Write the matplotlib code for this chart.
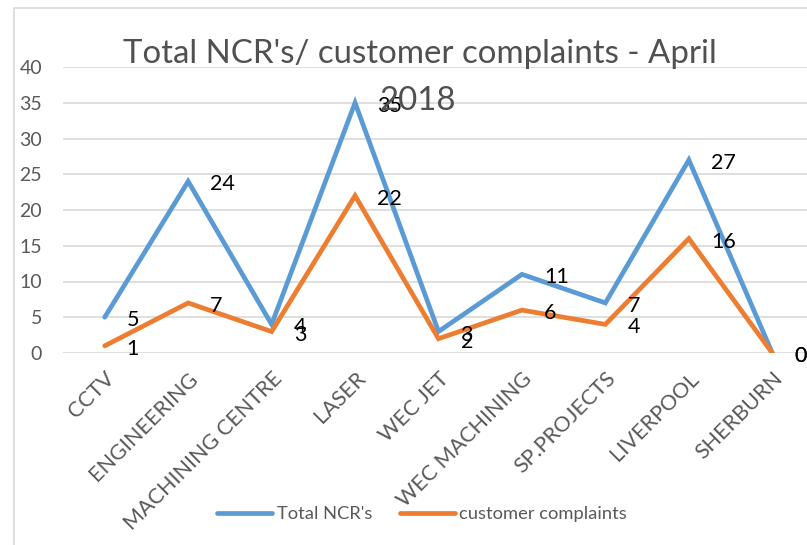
import matplotlib
matplotlib.use("Agg")
import matplotlib.pyplot as plt
from matplotlib.patches import Rectangle

plt.rcParams["font.family"] = ["Lato", "DejaVu Sans"]

# ── data ────────────────────────────────────────────────────────────────────
categories = ["CCTV", "ENGINEERING", "MACHINING CENTRE", "LASER", "WEC JET",
              "WEC MACHINING", "SP.PROJECTS", "LIVERPOOL", "SHERBURN"]
total_ncrs = [5, 24, 4, 35, 3, 11, 7, 27, 0]
complaints = [1, 7, 3, 22, 2, 6, 4, 16, 0]
y_ticks = [0, 5, 10, 15, 20, 25, 30, 35, 40]

BLUE = "#5B9BD5"
ORANGE = "#ED7D31"
GREY_TXT = "#595959"
GRID = "#D9D9D9"

W, H = 807, 545
fig = plt.figure(figsize=(W / 100, H / 100), dpi=100)

# chart border (Excel chart area)
fig.patches.append(Rectangle((14 / W, -0.1), 1.2, 1.1 - 8 / H,
                             transform=fig.transFigure, fill=False,
                             edgecolor="#D9D9D9", linewidth=1.2))

# plot area: gridlines from x=63, y=0 at px 353, y=40 at px 67
ax = fig.add_axes([63 / W, (H - 353) / H, 751 / W, 286 / H])
x = range(len(categories))

ax.plot(x, total_ncrs, color=BLUE, lw=3.4, solid_joinstyle="miter",
        solid_capstyle="round", label="Total NCR's", zorder=3)
ax.plot(x, complaints, color=ORANGE, lw=3.4, solid_joinstyle="miter",
        solid_capstyle="round", label="customer complaints", zorder=3)

for series in (total_ncrs, complaints):
    for i, v in enumerate(series):
        ax.annotate(str(v), (i, v), xytext=(22, -3), textcoords="offset pixels",
                    ha="left", va="center", fontsize=15.5, color="black",
                    annotation_clip=False, zorder=4)

ax.set_xlim(-0.5, len(categories) - 0.5)
ax.set_ylim(0, 40)
ax.set_yticks(y_ticks)
ax.set_yticklabels([str(t) for t in y_ticks], fontsize=14, color=GREY_TXT)
ax.set_xticks(list(x))
ax.set_xticklabels(categories, rotation=45, ha="right", va="top",
                   rotation_mode="anchor", fontsize=15.5, color=GREY_TXT)
ax.tick_params(axis="both", length=0)
ax.tick_params(axis="y", pad=15)
ax.tick_params(axis="x", pad=11)
ax.grid(axis="y", color=GRID, lw=1.2)
ax.set_axisbelow(True)
for s in ax.spines.values():
    s.set_visible(False)

fig.text(420 / W, 1 - 63 / H, "Total NCR's/ customer complaints - April",
         ha="center", va="baseline", fontsize=23.8, color="#505050", zorder=5)
fig.text(418 / W, 1 - 110 / H, "2018",
         ha="center", va="baseline", fontsize=23.8, color="#505050", zorder=5)

fig.legend(loc="center", bbox_to_anchor=(422 / W, 1 - 514 / H), ncol=2,
           frameon=False, fontsize=13.2, handlelength=3.0, columnspacing=1.5,
           handletextpad=0.25, labelcolor=GREY_TXT)

fig.savefig("out.png", dpi=100)
